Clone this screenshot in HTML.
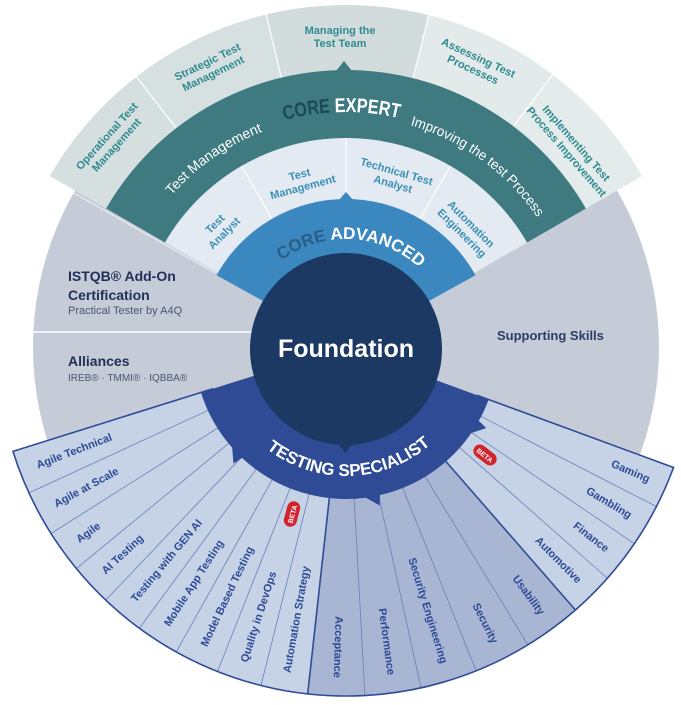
<!DOCTYPE html>
<html><head><meta charset="utf-8"><style>
html,body{margin:0;padding:0;background:#fff;}
svg{display:block;font-family:"Liberation Sans",sans-serif;}
.sl{font-size:11px;font-weight:bold;fill:#2d4a94;dominant-baseline:central;}
.eo{font-size:11px;font-weight:bold;fill:#2f8a90;}
.al{font-size:11px;font-weight:bold;fill:#3a8fb5;}
</style></head><body>
<svg id="s" width="681" height="705" viewBox="0 0 681 705" xmlns="http://www.w3.org/2000/svg">
<defs>
<path id="pExp" d="M 111 347 A 235 235 0 0 1 581 347"/>
<path id="pTM" d="M 115 347 A 231 231 0 0 1 577 347"/>
<path id="pAdv" d="M 238 347 A 108 108 0 0 1 454 347"/>
<path id="pTS" d="M 217 347 A 129 129 0 0 0 475 347"/>
</defs>
<circle cx="346" cy="347" r="313" fill="#c6ccd7"/>
<g id="shapes"></g>
<line x1="33" y1="332" x2="252" y2="332" stroke="#fff" stroke-width="1.5"/>
<circle cx="346" cy="349" r="96" fill="#1b3962"/>
<polygon points="336,440 356,440 345,453" fill="#1b3962"/>
<g id="labels">
<text class="sl">Agile Technical</text>
<text class="sl">Agile at Scale</text>
<text class="sl">Agile</text>
<text class="sl">AI Testing</text>
<text class="sl">Testing with GEN AI</text>
<text class="sl">Mobile App Testing</text>
<text class="sl">Model Based Testing</text>
<text class="sl">Quality in DevOps</text>
<text class="sl">Automation Strategy</text>
<text class="sl">Acceptance</text>
<text class="sl">Performance</text>
<text class="sl">Security Engineering</text>
<text class="sl">Security</text>
<text class="sl">Usability</text>
<text class="sl">Automotive</text>
<text class="sl">Finance</text>
<text class="sl">Gambling</text>
<text class="sl">Gaming</text>
</g>
<text class="eo" text-anchor="middle" transform="translate(111,140) rotate(-48)"><tspan x="0" y="-2">Operational Test</tspan><tspan x="0" y="11">Management</tspan></text>
<text class="eo" text-anchor="middle" transform="translate(210,67) rotate(-26)"><tspan x="0" y="-2">Strategic Test</tspan><tspan x="0" y="11">Management</tspan></text>
<text class="eo" text-anchor="middle" transform="translate(340,36) rotate(0)"><tspan x="0" y="-2">Managing the</tspan><tspan x="0" y="11">Test Team</tspan></text>
<text class="eo" text-anchor="middle" transform="translate(476,63) rotate(25)"><tspan x="0" y="-2">Assessing Test</tspan><tspan x="0" y="11">Processes</tspan></text>
<text class="eo" text-anchor="middle" transform="translate(572,147) rotate(49)"><tspan x="0" y="-2">Implementing Test</tspan><tspan x="0" y="11">Process Improvement</tspan></text>
<text class="al" text-anchor="middle" transform="translate(219,228) rotate(-45)"><tspan x="0" y="-2">Test</tspan><tspan x="0" y="11">Analyst</tspan></text>
<text class="al" text-anchor="middle" transform="translate(301,180) rotate(-15)"><tspan x="0" y="-2">Test</tspan><tspan x="0" y="11">Management</tspan></text>
<text class="al" text-anchor="middle" transform="translate(395,177) rotate(16)"><tspan x="0" y="-2">Technical Test</tspan><tspan x="0" y="11">Analyst</tspan></text>
<text class="al" text-anchor="middle" transform="translate(467,228) rotate(45)"><tspan x="0" y="-2">Automation</tspan><tspan x="0" y="11">Engineering</tspan></text>
<text font-size="20" font-weight="bold"><textPath href="#pExp" startOffset="49.4%" text-anchor="middle" textLength="116" lengthAdjust="spacingAndGlyphs"><tspan fill="#1d4a52">CORE </tspan><tspan fill="#fff">EXPERT</tspan></textPath></text>
<text font-size="14" fill="#fff"><textPath href="#pTM" startOffset="30.5%" text-anchor="middle" textLength="112" lengthAdjust="spacingAndGlyphs">Test Management</textPath></text>
<text font-size="14" fill="#fff"><textPath href="#pTM" startOffset="70%" text-anchor="middle" textLength="160" lengthAdjust="spacingAndGlyphs">Improving the test Process</textPath></text>
<text font-size="17" font-weight="bold"><textPath href="#pAdv" startOffset="51.7%" text-anchor="middle" textLength="150" lengthAdjust="spacingAndGlyphs"><tspan fill="#2a5f86">CORE </tspan><tspan fill="#fff">ADVANCED</tspan></textPath></text>
<text font-size="17" font-weight="bold" fill="#fff"><textPath href="#pTS" startOffset="50.8%" text-anchor="middle" textLength="178" lengthAdjust="spacingAndGlyphs">TESTING SPECIALIST</textPath></text>
<text x="346" y="357" text-anchor="middle" font-size="25" font-weight="bold" fill="#fff">Foundation</text>
<text x="497" y="340" font-size="13" font-weight="bold" fill="#2b3d66">Supporting Skills</text>
<text x="68" y="281" font-size="14" font-weight="bold" fill="#1e3057">ISTQB® Add-On</text>
<text x="68" y="300" font-size="14" font-weight="bold" fill="#1e3057">Certification</text>
<text x="68" y="314" font-size="11" fill="#4a5570">Practical Tester by A4Q</text>
<text x="68" y="366" font-size="14" font-weight="bold" fill="#1e3057">Alliances</text>
<text x="68" y="381" font-size="10" fill="#4a5570">IREB® · TMMI® · IQBBA®</text>
<g transform="translate(485,455) rotate(38)"><rect x="-13" y="-6.5" width="26" height="13" rx="6.5" fill="#d3222d"/><text x="0" y="3" text-anchor="middle" font-size="7" font-weight="bold" fill="#fff">BETA</text></g>
<g transform="translate(292,514) rotate(-75)"><rect x="-13" y="-6.5" width="26" height="13" rx="6.5" fill="#d3222d"/><text x="0" y="3" text-anchor="middle" font-size="7" font-weight="bold" fill="#fff">BETA</text></g>
</svg>
<script>
(function(){
var cx=346,cy=347,NS="http://www.w3.org/2000/svg";
function P(r,a){a=a*Math.PI/180;return [(cx+r*Math.cos(a)).toFixed(2),(cy-r*Math.sin(a)).toFixed(2)];}
function sec(r1,r2,a1,a2){var L=(a1-a2)>180?1:0,p1=P(r2,a1),p2=P(r2,a2),p3=P(r1,a2),p4=P(r1,a1);
return "M"+p1+" A"+r2+" "+r2+" 0 "+L+" 1 "+p2+" L"+p3+" A"+r1+" "+r1+" 0 "+L+" 0 "+p4+" Z";}
var g=document.getElementById("shapes");
function add(tag,at){var e=document.createElementNS(NS,tag);for(var k in at)e.setAttribute(k,at[k]);g.appendChild(e);return e;}
function path(d,fill,stroke,sw){add("path",{d:d,fill:fill||"none",stroke:stroke||"none","stroke-width":sw||0});}
function line(r1,r2,a,c,w){var p=P(r1,a),q=P(r2,a);add("line",{x1:p[0],y1:p[1],x2:q[0],y2:q[1],stroke:c,"stroke-width":w});}
function tri(pts,fill){add("polygon",{points:pts.map(function(p){return p.join(",");}).join(" "),fill:fill});}
// expert outer
var eb=[150,127.8,103.5,76,52.8,30],ec=["#d5dfdf","#d6e0e0","#d2dcdc","#e2eaea","#e4ebeb"];
for(var i=0;i<5;i++)path(sec(270,342,eb[i],eb[i+1]),ec[i]);
for(i=1;i<5;i++)line(270,342,eb[i],"#fff",1.2);
// teal
path(sec(209,277,150,30),"#3e7a80");
tri([[336,71],[352,71],[344,61]],"#3e7a80");
// advanced light
var ab=[150,120,90,60,30];
path(sec(148,209,150,30),"#e4eaf1");
for(i=1;i<4;i++)line(148,209,ab[i],"#fff",1.2);
// blue advanced
path(sec(90,148,151,29),"#3b87c0");
tri([[338,201],[354,201],[346,192]],"#3b87c0");
// gray divider at 150
line(150,313,150.5,"#e8ecf1",1.2);
// specialist fan
var sb=[197.4,204.7,212.3,219.4,226.5,233.7,240.9,248.4,255.9,263.7,273.1,282.4,291.9,301.4,311.1,318.5,325.7,332.8,339.8];
for(i=0;i<18;i++){var dark=(i>=9&&i<=13);path(sec(140,349,sb[i+1],sb[i]),dark?"#a9b6d3":"#c6d3e7");}
for(i=1;i<18;i++){var b=(i==9||i==14);line(150,349,sb[i],b?"#2f4b96":"#6a80b4",b?1.6:0.8);}
path(sec(140,349,339.8,197.4),"none","#2f4b96",1.6);
// specialist band
path(sec(90,152,339.8,197.4),"#2f4b96");
function tooth(a){var p1=P(151,a-5),p2=P(151,a+1),p3=P(162,a);tri([p1,p2,p3],"#2f4b96");}
tooth(226);tooth(282);tooth(330);
// labels
var t=document.querySelectorAll("#labels text");
for(i=0;i<18;i++){var a=(sb[i]+sb[i+1])/2,p=P(331,a),rot,anc;
 if(i<9){rot=180-a;anc="start";}else{rot=-a;anc="end";}
 t[i].setAttribute("text-anchor",anc);
 t[i].setAttribute("transform","translate("+p[0]+","+p[1]+") rotate("+rot.toFixed(2)+")");}
})();
</script>
</body></html>
